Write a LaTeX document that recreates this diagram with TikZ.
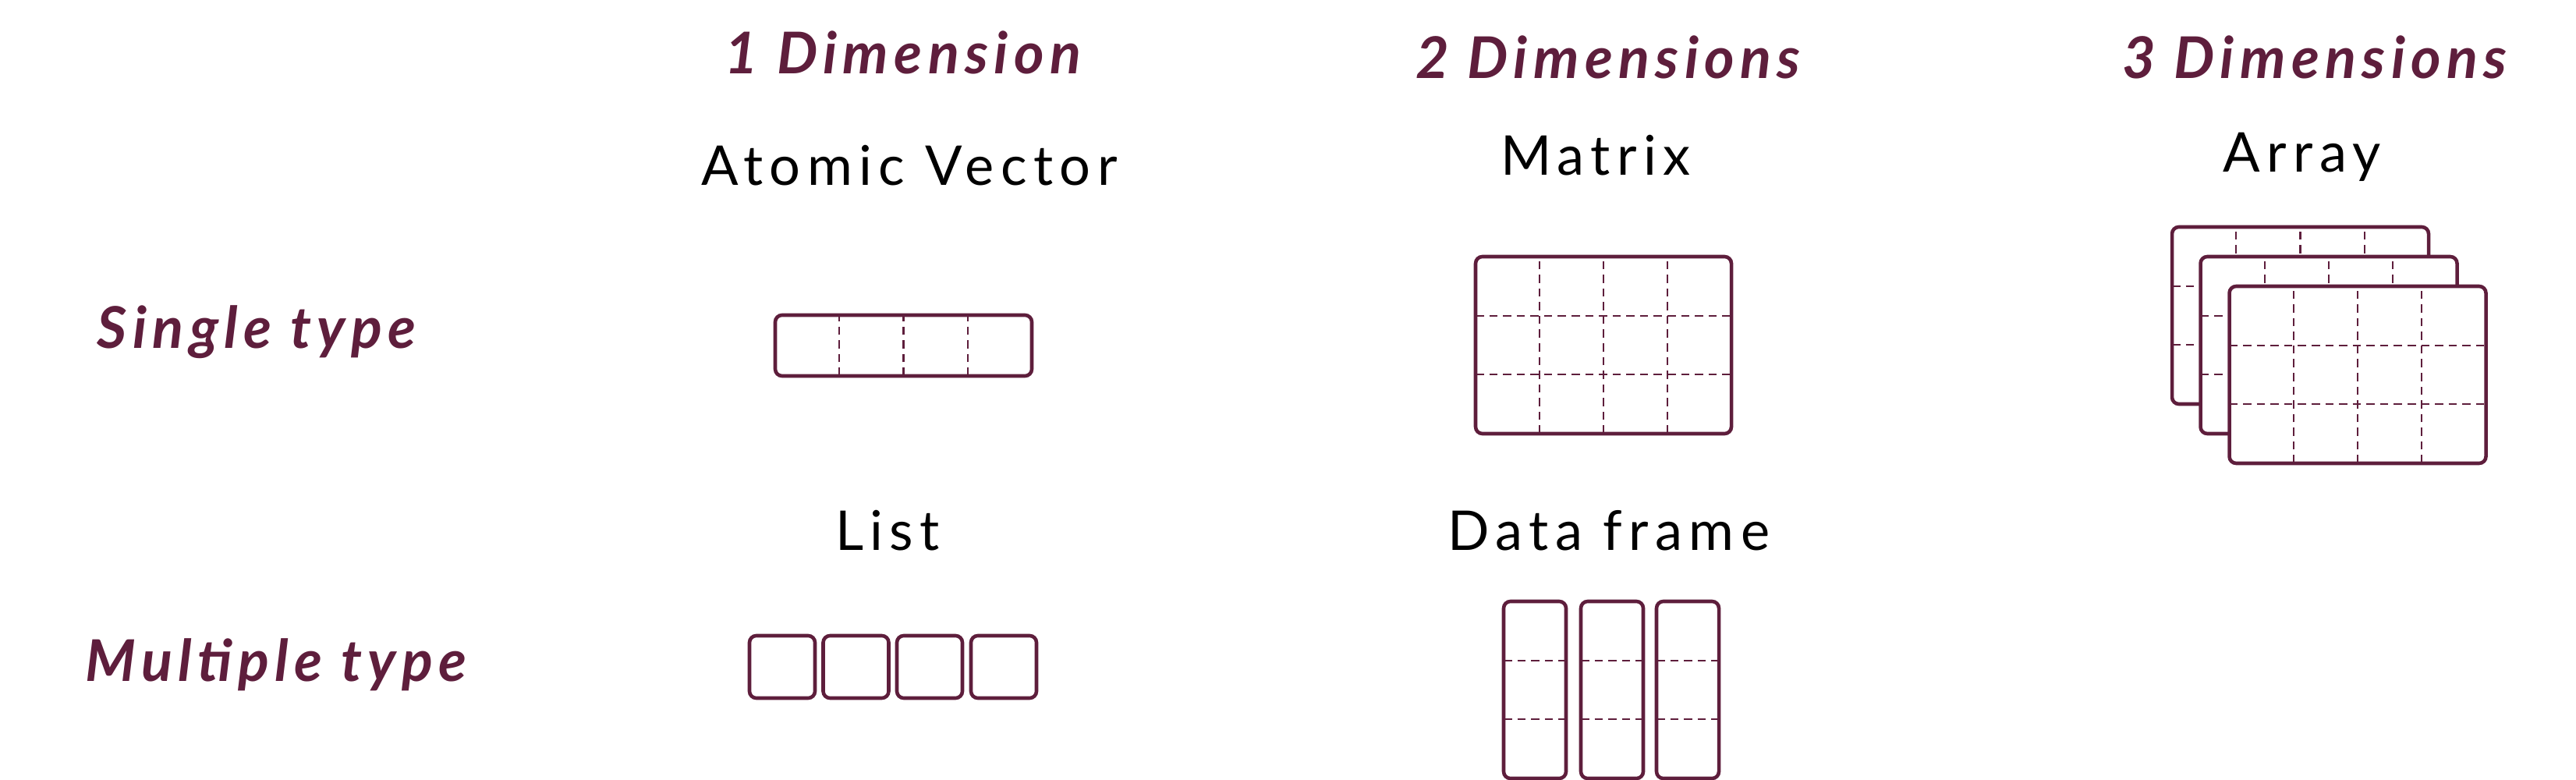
\documentclass[tikz,border=0pt]{standalone}
\usepackage{fontspec}
\setmainfont{Lato}
\newfontfamily\kindfont[LetterSpace=12]{Lato}
\newfontfamily\headfont[LetterSpace=10]{Lato}
\usetikzlibrary{calc}
\definecolor{wine}{HTML}{5E1E3C}
\newcommand{\vgrid}[2]{\foreach \k in {1,...,#2}
  \draw[gridline] ($(#1.south west)!{\k/(#2+1)}!(#1.south east)$) -- ($(#1.north west)!{\k/(#2+1)}!(#1.north east)$);}
\newcommand{\hgrid}[2]{\foreach \k in {1,...,#2}
  \draw[gridline] ($(#1.north west)!{\k/(#2+1)}!(#1.south west)$) -- ($(#1.north east)!{\k/(#2+1)}!(#1.south east)$);}

\begin{document}
\begin{tikzpicture}[
    cellframe/.style={draw=wine, fill=white, line width=1.3pt, rounded corners=2.5pt, inner sep=0pt, outer sep=0pt},
    gridline/.style={draw=wine, line width=0.6pt, dash pattern=on 3pt off 2pt},
    head/.style={text=wine, font=\headfont\fontsize{21}{24}\selectfont\bfseries\itshape, anchor=base},
    kind/.style={font=\kindfont\fontsize{20}{24}\selectfont, anchor=base}]
        \useasboundingbox (0, 0) rectangle (33.03, -10);
        \node[head] (d1) at (11.58, -0.95) {1 Dimension};
        \node[head] (d2) at (20.62, -1.01) {2 Dimensions};
        \node[head] (d3) at (29.68, -1.01) {3 Dimensions};
        \node[head] (single) at (3.29, -4.47) {Single type};
        \node[head] (multi) at (3.54, -8.74) {Multiple type};
        \node[kind] (atomic) at (11.66, -2.38) {Atomic Vector};
        \node[kind] (matrix) at (20.46, -2.25) {Matrix};
        \node[kind] (array) at (29.52, -2.21) {Array};
        \node[kind] (list) at (11.38, -7.06) {List};
        \node[kind] (frame) at (20.63, -7.06) {Data frame};
        \node[cellframe, minimum width=3.29cm, minimum height=0.78cm] (vec) at (11.585, -4.43) {};
        \vgrid{vec}{3}
        \node[cellframe, minimum width=3.28cm, minimum height=2.27cm] (mat) at (20.56, -4.425) {};
        \vgrid{mat}{3}
        \hgrid{mat}{2}
        \foreach \x/\y [count=\i] in {29.495/-4.045, 29.86/-4.425, 30.23/-4.805} {
            \node[cellframe, minimum width=3.29cm, minimum height=2.27cm] (arr\i) at (\x, \y) {};
            \vgrid{arr\i}{3}
            \hgrid{arr\i}{2}
        }
        \foreach \x [count=\i] in {10.03, 10.975, 11.92, 12.87}
            \node[cellframe, minimum width=0.84cm, minimum height=0.8cm] (l\i) at (\x, -8.55) {};
        \foreach \x [count=\i] in {19.68, 20.67, 21.64} {
            \node[cellframe, minimum width=0.8cm, minimum height=2.27cm] (c\i) at (\x, -8.845) {};
            \hgrid{c\i}{2}
        }
    \end{tikzpicture}
\end{document}
